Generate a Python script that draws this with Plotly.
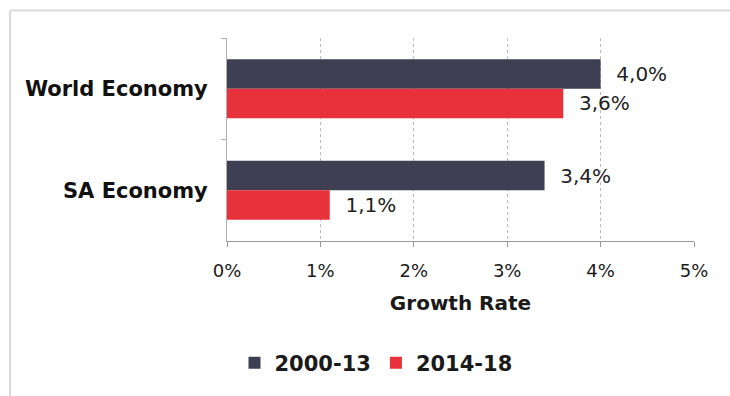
import plotly.graph_objects as go

categories = ["World Economy", "SA Economy"]
series_names = ["2000-13", "2014-18"]
values_2000_13 = [4.0, 3.4]
values_2014_18 = [3.6, 1.1]
x_ticks = [0, 1, 2, 3, 4, 5]
x_tick_labels = ["0%", "1%", "2%", "3%", "4%", "5%"]

colors = ["#3e3f52", "#e8323b"]

def fmt(v):
    return "\u00a0\u00a0" + f"{v:.1f}".replace(".", ",") + "%"

fig = go.Figure()
for name, vals, col in zip(series_names, [values_2000_13, values_2014_18], colors):
    fig.add_trace(go.Bar(
        y=categories, x=vals, name=name, orientation="h",
        marker=dict(color=col, line=dict(width=0)),
        text=[fmt(v) for v in vals], textposition="outside",
        textfont=dict(family="DejaVu Sans", size=20, color="#222222"),
        cliponaxis=False,
    ))

L, R, T, B = 227, 694, 38, 244
W, H = 730, 396
pw, ph = R - L, B - T

def px(x):
    return (x - L) / pw

def py(y):
    return (B - y) / ph

frame = dict(color="#d9d9d9", width=2)
fig.add_shape(type="line", xref="paper", yref="paper",
              x0=px(10), x1=px(760), y0=py(10), y1=py(10), line=frame, layer="below")
fig.add_shape(type="line", xref="paper", yref="paper",
              x0=px(10), x1=px(10), y0=py(10), y1=py(420), line=frame, layer="below")

fig.update_layout(
    width=W, height=H,
    margin=dict(l=L, r=W - R, t=T, b=H - B, pad=0),
    paper_bgcolor="white", plot_bgcolor="white",
    barmode="group", bargap=0.42, bargroupgap=0,
    font=dict(family="DejaVu Sans", color="#1a1a1a"),
    showlegend=True,
    legend=dict(orientation="h", x=px(376), xanchor="center", y=py(368), yanchor="middle",
                font=dict(family="DejaVu Sans", size=21, color="#1a1a1a", weight="bold"),
                itemwidth=30, traceorder="normal", bgcolor="rgba(0,0,0,0)"),
    xaxis=dict(range=[0, 5], tickvals=x_ticks, ticktext=x_tick_labels,
               showgrid=True, gridcolor="#bdbdbd", griddash="dot", gridwidth=1,
               showline=True, linecolor="#9a9a9a", linewidth=1,
               ticks="outside", ticklen=5, tickcolor="#9a9a9a",
               tickfont=dict(family="DejaVu Sans", size=18, color="#1a1a1a"),
               ticklabelstandoff=8,
               zeroline=False,
               title=dict(text="Growth Rate", font=dict(family="DejaVu Sans", size=20, weight="bold", color="#1a1a1a"), standoff=16)),
    yaxis=dict(autorange="reversed", showgrid=False, showline=True, linecolor="#b0b0b0", linewidth=1,
               ticks="outside", tickson="boundaries", ticklen=5, tickcolor="#b0b0b0",
               tickfont=dict(family="DejaVu Sans", size=21, weight="bold", color="#111111"),
               ticklabelstandoff=14),
)

fig.write_html("out.html")
